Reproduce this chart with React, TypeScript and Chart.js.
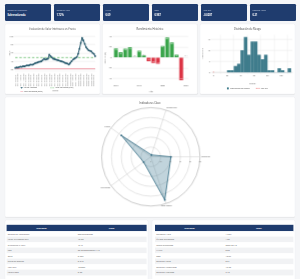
import React, { useEffect, useRef } from "react";
import { Chart, registerables } from "chart.js";

Chart.register(...registerables);

const FONT = "'Open Sans', 'Noto Sans', 'DejaVu Sans', sans-serif";
Chart.defaults.font.family = FONT;

const DPR = 0.2;
const NAVY = "#1f3c6e";
const TEAL = "#1f5468";
const HIST = "#3f7c8c";
const GREEN = "#3aa54b";
const RED = "#dc3545";
const TXT = "#4a4a4a";
const BG = "#f5f6f8";

// ---------- data ----------
const kpiLabels = ["Estado de Valoración", "Dividend Yield", "WACC", "Beta", "VaR 95%", "Retorno Anual"];
const kpiValues = ["Sobrevalorado", "1.72%", "0.09", "0.987", "-0.0287", "0.21"];

const priceDates = [
  "2010-03-31", "2010-06-30", "2010-09-30", "2010-12-31",
  "2011-03-31", "2011-06-30", "2011-09-30", "2011-12-31",
  "2012-03-31", "2012-06-30", "2012-09-30", "2012-12-31",
  "2013-03-31", "2013-06-30", "2013-09-30", "2013-12-31",
  "2014-03-31", "2014-06-30", "2014-09-30", "2014-12-31",
  "2015-03-31", "2015-06-30", "2015-09-30", "2015-12-31",
  "2016-03-31", "2016-06-30", "2016-09-30", "2016-12-31",
  "2017-03-31", "2017-06-30", "2017-09-30", "2017-12-31",
  "2018-03-31", "2018-06-30", "2018-09-30", "2018-12-31",
  "2019-03-31", "2019-06-30", "2019-09-30", "2019-12-31",
  "2020-03-31", "2020-06-30", "2020-09-30", "2020-12-31",
  "2021-03-31", "2021-06-30", "2021-09-30", "2021-12-31",
  "2022-03-31", "2022-06-30", "2022-09-30", "2022-12-31",
  "2023-03-31", "2023-06-30", "2023-09-30", "2023-12-31",
  "2024-03-31", "2024-06-30", "2024-09-30", "2024-12-31",
  "2025-03-31", "2025-06-30",
];
const priceValues = [
  24, 25, 24.5, 26, 27, 26.5, 28, 27.5, 29,
  30, 29.5, 31, 32, 31.5, 33, 35, 36,
  37, 38.5, 39, 40, 43, 46, 44, 45, 46,
  56, 52, 49, 46, 45, 44, 43,
  42, 41, 40, 39, 38, 36, 35, 34, 32,
  36, 40, 44, 46, 48, 50,
  58, 70, 84, 96, 90, 82, 74, 70,
  66, 65, 64, 60, 58, 52,
];
const dcfValue = 48.8;
const ddmValue = 22;
const priceTicks = [20, 40, 60, 80, 100];

const returnYears = ["2010", "2011", "2012", "2013", "2014", "2015", "2016", "2017", "2018", "2019", "2020", "2021", "2022", "2023", "2024", "2025"];
const returnValues = [17.2, 9.8, 16.5, 19.6, 0.8, 12.9, 3.9, -7.2, -10.3, -11.6, 22.1, 38.1, 28.4, 5.1, -43.2, 0.4];
const returnYearTicks = ["2010", "2015", "2020", "2025"];
const returnTicks = [-40, -20, 0, 20, 40];

const histBinStarts = [20, 25, 30, 35, 40, 45, 50, 55, 60, 65, 70, 75, 80, 85, 90, 95, 100, 105, 110];
const histCounts = [1, 1, 3, 4, 10, 16, 8, 14, 14, 8, 6, 8, 1, 1, 0, 2, 1, 0, 2];
const histBinWidth = 5;
const histXTicks = [0, 20, 40, 60, 80, 100];
const histYTicks = [0, 5, 10, 15];
const varValue = -0.0287;

const radarLabels = ["Valoración", "Costo Capital", "Dividendos", "Riesgo", "Rentabilidad"];
const radarValues = [41, 92, 18, 74, 4];
const radarTicks = [0, 20, 40, 60, 80, 100];

const leftIndicators = ["Estado de Valoración", "Valor Intrínseco DCF", "Diferencia % DCF", "PER", "Beta", "Ratio de Sharpe", "VaR 95%", "Volatilidad"];
const leftValues = ["Sobrevalorado", "48.03", "-0.47", "20.379622728951115", "0.987", "0.218", "-0.0287", "0.26"];
const rightIndicators = ["Dividend Yield", "Último Dividendo", "Fecha Dividendo", "WACC", "ROE", "Retorno Anual", "Retorno Acumulado", "Retorno Ajustado"];
const rightValues = ["1.72%", "1.86", "2025-05-13", "0.09", "13.87", "0.21", "15.23", "7.16"];

// ---------- helpers ----------
const tickFont = { size: 10, family: FONT };
const titleFont = { size: 10.5, family: FONT };

function fixedTicks(values: number[]) {
  return (axis: any) => {
    axis.ticks = values.map((v) => ({ value: v }));
  };
}

function ChartBox({ left, top, width, height, make }: any) {
  const ref = useRef<HTMLCanvasElement>(null);
  useEffect(() => {
    if (!ref.current) return;
    const ch = new Chart(ref.current, make());
    return () => ch.destroy();
  }, []);
  return (
    <canvas
      ref={ref}
      width={width}
      height={height}
      style={{ position: "absolute", left, top, width, height }}
    />
  );
}

// ---------- chart configs ----------
const makeLine = () => ({
  type: "line",
  data: {
    labels: priceDates,
    datasets: [
      {
        label: "Precio Ajustado",
        data: priceValues,
        borderColor: TEAL,
        backgroundColor: TEAL,
        borderWidth: 5,
        pointRadius: 4.5,
        pointBorderWidth: 0,
        pointBackgroundColor: TEAL,
      },
      {
        label: "Valor Intrínseco (DCF)",
        data: [
          { x: priceDates[0], y: dcfValue },
          { x: priceDates[priceDates.length - 1], y: dcfValue },
        ],
        borderColor: "#4fb356",
        borderWidth: 3.5,
        borderDash: [12, 9],
        pointRadius: 0,
      },
      {
        label: "Valor Intrínseco (DDM)",
        data: [
          { x: priceDates[0], y: ddmValue },
          { x: priceDates[priceDates.length - 1], y: ddmValue },
        ],
        borderColor: "#e8788a",
        borderWidth: 3.5,
        pointRadius: 0,
      },
    ],
  },
  options: {
    responsive: false,
    animation: false,
    devicePixelRatio: DPR,
    layout: { padding: { top: 50, right: 25, left: 10, bottom: 8 } },
    plugins: { legend: { display: false }, tooltip: { enabled: false } },
    scales: {
      x: {
        type: "category",
        grid: { display: false },
        border: { color: "#cfcfcf" },
        ticks: {
          autoSkip: false,
          minRotation: 90,
          maxRotation: 90,
          font: { size: 12, family: FONT },
          color: "#666",
          callback: function (this: any, v: any, i: number) {
            return i % 2 === 0 ? this.getLabelForValue(v) : "";
          },
        },
        title: { display: true, text: "Fecha", font: titleFont, color: TXT },
        afterFit: (s: any) => {
          s.height = 105;
        },
      },
      y: {
        min: 15,
        max: 105,
        afterBuildTicks: fixedTicks(priceTicks),
        grid: { color: "#dedede", lineWidth: 2 },
        border: { display: false },
        ticks: { font: tickFont, color: TXT },
        title: { display: true, text: "Valor", font: titleFont, color: TXT },
        afterFit: (s: any) => {
          s.width = 40;
        },
      },
    },
  },
});

const barLabelPlugin = {
  id: "barLabels",
  afterDatasetsDraw(chart: any) {
    const ctx = chart.ctx;
    const meta = chart.getDatasetMeta(0);
    ctx.save();
    ctx.font = `7.5px ${FONT}`;
    ctx.textAlign = "center";
    meta.data.forEach((bar: any, i: number) => {
      const v = returnValues[i];
      const { x, y, base } = bar.getProps(["x", "y", "base"], true);
      const h = Math.abs(base - y);
      const text = v.toFixed(1);
      if (h >= 12) {
        ctx.fillStyle = "#ffffff";
        ctx.textBaseline = "middle";
        ctx.fillText(text, x, v >= 0 ? y + 6 : y - 6);
      } else {
        ctx.fillStyle = "#888";
        ctx.textBaseline = v >= 0 ? "bottom" : "top";
        ctx.fillText(text, x, v >= 0 ? y - 2 : y + 2);
      }
    });
    ctx.restore();
  },
};

const makeBars = () => ({
  type: "bar",
  data: {
    labels: returnYears,
    datasets: [
      {
        label: "Retorno",
        data: returnValues,
        backgroundColor: returnValues.map((v) => (v >= 0 ? GREEN : RED)),
        barPercentage: 0.82,
        categoryPercentage: 1,
      },
    ],
  },
  plugins: [barLabelPlugin],
  options: {
    responsive: false,
    animation: false,
    devicePixelRatio: DPR,
    layout: { padding: { top: 48, right: 47, left: 3, bottom: 2 } },
    plugins: { legend: { display: false }, tooltip: { enabled: false } },
    scales: {
      x: {
        grid: { display: false },
        border: { display: false },
        ticks: {
          autoSkip: false,
          maxRotation: 0,
          font: tickFont,
          color: TXT,
          callback: (v: any, i: number) => (returnYearTicks.includes(returnYears[i]) ? returnYears[i] : ""),
        },
        title: { display: true, text: "Año", font: titleFont, color: TXT },
        afterFit: (s: any) => {
          s.height = 58;
        },
      },
      y: {
        min: -47,
        max: 45,
        afterBuildTicks: fixedTicks(returnTicks),
        grid: { color: "#dedede", lineWidth: 2 },
        border: { display: false },
        ticks: { font: tickFont, color: TXT },
        title: { display: true, text: "Retorno (%)", font: titleFont, color: TXT },
        afterFit: (s: any) => {
          s.width = 52;
        },
      },
    },
  },
});

const makeHist = () => ({
  type: "bar",
  data: {
    datasets: [
      {
        type: "bar",
        label: "Distribución de Precios",
        data: histBinStarts.map((s, i) => ({ x: s + histBinWidth / 2, y: histCounts[i] })),
        backgroundColor: HIST,
        barPercentage: 1,
        categoryPercentage: 1,
        borderWidth: 0,
      },
      {
        type: "line",
        label: "VaR 95%",
        data: [
          { x: varValue, y: 0 },
          { x: varValue, y: 0.6 },
        ],
        borderColor: "#e23b3b",
        borderDash: [4, 3],
        borderWidth: 4,
        pointRadius: 0,
      },
    ],
  },
  options: {
    responsive: false,
    animation: false,
    devicePixelRatio: DPR,
    layout: { padding: { top: 53, right: 14, left: 0, bottom: 43 } },
    plugins: { legend: { display: false }, tooltip: { enabled: false } },
    scales: {
      x: {
        type: "linear",
        offset: false,
        min: -2,
        max: 117,
        afterBuildTicks: fixedTicks(histXTicks),
        grid: { color: "#e6e6e6", lineWidth: 2 },
        border: { color: "#cfcfcf", width: 2 },
        ticks: { font: tickFont, color: TXT },
        title: { display: true, text: "Precio", font: titleFont, color: TXT },
        afterFit: (s: any) => {
          s.height = 65;
        },
      },
      y: {
        min: 0,
        max: 17,
        afterBuildTicks: fixedTicks(histYTicks),
        grid: { color: "#dedede", lineWidth: 2 },
        border: { display: false },
        ticks: { font: tickFont, color: TXT },
        title: { display: true, text: "Frecuencia", font: titleFont, color: TXT },
        afterFit: (s: any) => {
          s.width = 60;
        },
      },
    },
  },
});

const radarLabelPlugin = {
  id: "radarLabels",
  afterDraw(chart: any) {
    const r = chart.scales.r;
    const ctx = chart.ctx;
    ctx.save();
    ctx.fillStyle = "#555";
    ctx.font = `9px ${FONT}`;
    radarLabels.forEach((lab, i) => {
      const ang = r.getIndexAngle(i) - Math.PI / 2;
      const c = Math.cos(ang);
      const s = Math.sin(ang);
      const d = r.drawingArea + 6;
      const x = r.xCenter + c * d;
      const y = r.yCenter + s * d;
      ctx.textAlign = s > 0.9 ? "center" : c > 0.1 ? "left" : c < -0.1 ? "right" : "center";
      ctx.textBaseline = s > 0.3 ? "top" : s < -0.3 ? "bottom" : "middle";
      ctx.fillText(lab, x, y);
    });
    ctx.font = `8px ${FONT}`;
    ctx.textAlign = "center";
    ctx.textBaseline = "middle";
    ctx.fillStyle = "#666";
    radarTicks.forEach((t) => {
      const x = r.xCenter + r.getDistanceFromCenterForValue(t);
      ctx.fillText(String(t), x, r.yCenter + 24);
    });
    ctx.restore();
  },
};

const makeRadar = () => ({
  type: "radar",
  data: {
    labels: radarLabels,
    datasets: [
      {
        label: "Indicadores",
        data: radarValues,
        fill: true,
        backgroundColor: "rgba(62,122,146,0.32)",
        borderColor: "#2e6880",
        borderWidth: 4,
        pointRadius: 4.5,
        pointBackgroundColor: "#2e6880",
        pointBorderWidth: 0,
      },
    ],
  },
  plugins: [radarLabelPlugin],
  options: {
    responsive: false,
    animation: false,
    devicePixelRatio: DPR,
    layout: { padding: { left: 482, right: 475, top: 52, bottom: 55 } },
    plugins: { legend: { display: false }, tooltip: { enabled: false } },
    scales: {
      r: {
        min: 0,
        max: 100,
        startAngle: 90,
        ticks: { display: false, stepSize: 20 },
        pointLabels: { display: false },
        grid: {
          circular: true,
          color: (ctx: any) => (ctx.tick && ctx.tick.value === 100 ? "#a8a8a8" : "#d4d4d4"),
          lineWidth: 3,
        },
        angleLines: { color: "#d0d0d0", lineWidth: 3 },
      },
    },
  },
});

// ---------- layout pieces ----------
const panelStyle: any = {
  position: "absolute",
  background: "#ffffff",
  borderRadius: 8,
  border: "1px solid #e4e7eb",
  boxShadow: "0 1px 4px rgba(0,0,0,0.06)",
  boxSizing: "border-box",
};

function Title({ text, y }: { text: string; y: number }) {
  return (
    <div
      style={{
        position: "absolute",
        left: 0,
        right: 0,
        top: y - 9,
        height: 18,
        lineHeight: "18px",
        textAlign: "center",
        fontSize: 13,
        color: "#444",
      }}
    >
      {text}
    </div>
  );
}

function LegendItem({ x, y, kind, color, text }: any) {
  let sw: any;
  if (kind === "square") {
    sw = <div style={{ position: "absolute", left: 0, top: -5, width: 10, height: 10, background: color }} />;
  } else if (kind === "dash") {
    sw = <div style={{ position: "absolute", left: 0, top: -1, width: 20, borderTop: `2.5px dashed ${color}` }} />;
  } else if (kind === "marker") {
    sw = (
      <>
        <div style={{ position: "absolute", left: 0, top: -1.25, width: 14, height: 2.5, background: color }} />
        <div style={{ position: "absolute", left: 4, top: -3, width: 6, height: 6, borderRadius: 3, background: color }} />
      </>
    );
  } else {
    sw = <div style={{ position: "absolute", left: 0, top: -1.25, width: 14, height: 2.5, background: color }} />;
  }
  const textLeft = kind === "dash" ? 25 : kind === "square" ? 17 : 18;
  return (
    <div style={{ position: "absolute", left: x, top: y }}>
      {sw}
      <div
        style={{
          position: "absolute",
          left: textLeft,
          top: -7,
          height: 14,
          lineHeight: "14px",
          whiteSpace: "nowrap",
          fontSize: 9,
          color: "#444",
        }}
      >
        {text}
      </div>
    </div>
  );
}

function Table({ left, top, width, rows, values }: any) {
  return (
    <div style={{ position: "absolute", left, top, width }}>
      <div
        style={{
          height: 32,
          background: NAVY,
          color: "#fff",
          display: "flex",
          alignItems: "center",
          fontWeight: 700,
          fontSize: 11,
        }}
      >
        <div style={{ width: "50%", textAlign: "center" }}>Indicador</div>
        <div style={{ width: "50%", textAlign: "center" }}>Valor</div>
      </div>
      {rows.map((r: string, i: number) => (
        <div
          key={i}
          style={{
            height: 27.5,
            display: "flex",
            alignItems: "center",
            background: i % 2 ? "#f1f2f4" : "#ffffff",
            fontSize: 11,
            color: "#555",
            borderBottom: "1px solid #eceef0",
            boxSizing: "border-box",
          }}
        >
          <div style={{ width: "50%", paddingLeft: 6, boxSizing: "border-box", whiteSpace: "nowrap" }}>{r}</div>
          <div style={{ width: "50%", paddingLeft: 6, boxSizing: "border-box", whiteSpace: "nowrap" }}>{values[i]}</div>
        </div>
      ))}
    </div>
  );
}

export default function App() {
  return (
    <div
      style={{
        position: "absolute",
        left: 0,
        top: 0,
        width: 300,
        height: 279,
        overflow: "hidden",
        background: BG,
      }}
    >
      <div
        style={{
          position: "absolute",
          left: 0,
          top: 0,
          width: 1500,
          height: 1395,
          transform: "scale(0.2)",
          transformOrigin: "0 0",
          fontFamily: FONT,
        }}
      >
        {kpiLabels.map((lab, i) => (
          <div
            key={lab}
            style={{
              position: "absolute",
              left: 25 + i * 245,
              top: 20,
              width: 230,
              height: 85,
              background: NAVY,
              borderRadius: 6,
              color: "#fff",
            }}
          >
            <div style={{ position: "absolute", left: 12, top: 22, fontSize: 10, color: "#d3dcea", whiteSpace: "nowrap" }}>{lab}</div>
            <div style={{ position: "absolute", left: 12, top: 46, fontSize: 12.5, fontWeight: 700, whiteSpace: "nowrap" }}>
              {kpiValues[i]}
            </div>
          </div>
        ))}

        {/* Panel 1 */}
        <div style={{ ...panelStyle, left: 25, top: 120, width: 475, height: 350 }}>
          <ChartBox left={0} top={0} width={475} height={350} make={makeLine} />
          <Title text="Evolución de Valor Intrínseco vs Precio" y={25} />
          <LegendItem x={75} y={318} kind="marker" color={TEAL} text="Precio Ajustado" />
          <LegendItem x={225} y={318} kind="dash" color="#4fb356" text="Valor Intrínseco (DCF)" />
          <LegendItem x={75} y={338} kind="line" color="#e8788a" text="Valor Intrínseco (DDM)" />
        </div>

        {/* Panel 2 */}
        <div style={{ ...panelStyle, left: 512, top: 120, width: 475, height: 350 }}>
          <ChartBox left={0} top={0} width={475} height={350} make={makeBars} />
          <Title text="Rendimiento Histórico" y={22} />
        </div>

        {/* Panel 3 */}
        <div style={{ ...panelStyle, left: 1000, top: 120, width: 475, height: 350 }}>
          <ChartBox left={0} top={0} width={475} height={350} make={makeHist} />
          <Title text="Distribución de Riesgo" y={22} />
          <LegendItem x={133} y={321} kind="square" color={HIST} text="Distribución de Precios" />
          <LegendItem x={278} y={321} kind="dash" color="#e23b3b" text="VaR 95%" />
        </div>

        {/* Radar panel */}
        <div style={{ ...panelStyle, left: 25, top: 485, width: 1450, height: 600 }}>
          <ChartBox left={0} top={0} width={1450} height={600} make={makeRadar} />
          <Title text="Indicadores Clave" y={30} />
        </div>

        {/* Tables */}
        <div style={{ ...panelStyle, left: 25, top: 1100, width: 715, height: 320 }} />
        <div style={{ ...panelStyle, left: 760, top: 1100, width: 715, height: 320 }} />
        <Table left={33} top={1124} width={700} rows={leftIndicators} values={leftValues} />
        <Table left={775} top={1124} width={692} rows={rightIndicators} values={rightValues} />
      </div>
    </div>
  );
}
